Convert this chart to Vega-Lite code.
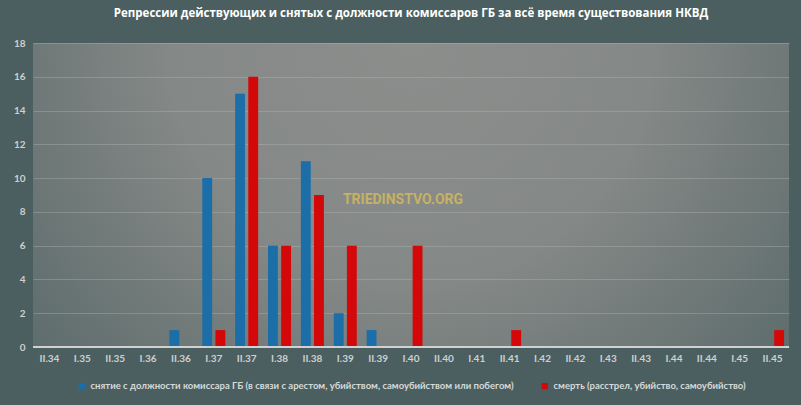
{
  "$schema": "https://vega.github.io/schema/vega-lite/v6.json",
  "autosize": {"type": "none"},
  "width": 756,
  "height": 304,
  "padding": {"left": 33, "top": 43, "right": 12, "bottom": 58},
  "background": "#4b5f60",
  "title": {
    "text": "Репрессии действующих и снятых с должности комиссаров ГБ за всё время существования НКВД",
    "font": "Open Sans",
    "fontSize": 11.5,
    "fontWeight": "bold",
    "color": "#ffffff",
    "anchor": "middle",
    "offset": 19
  },
  "config": {
    "view": {
      "stroke": null,
      "fill": {
        "gradient": "radial",
        "x1": 0.5, "y1": 0.3, "r1": 0,
        "x2": 0.5, "y2": 0.3, "r2": 0.8,
        "stops": [
          {"offset": 0, "color": "#8c8e8c"},
          {"offset": 0.4, "color": "#848886"},
          {"offset": 1, "color": "#4b5f60"}
        ]
      }
    },
    "axis": {
      "labelFont": "Lato",
      "labelFontWeight": "bold",
      "labelFontSize": 10,
      "labelColor": "#cdd1d0",
      "labelOverlap": false,
      "domain": false,
      "ticks": false,
      "title": null
    },
    "legend": {
      "labelFont": "Lato",
      "labelFontWeight": "bold",
      "labelFontSize": 9.5,
      "labelColor": "#d6dad9",
      "labelLimit": 600,
      "layout": {"bottom": {"anchor": "middle"}}
    }
  },
  "datasets": {
    "bars": [
      {"period": "II.36", "series": "снятие с должности комиссара ГБ (в связи с арестом, убийством, самоубийством или побегом)", "value": 1},
      {"period": "I.37", "series": "снятие с должности комиссара ГБ (в связи с арестом, убийством, самоубийством или побегом)", "value": 10},
      {"period": "I.37", "series": "смерть (расстрел, убийство, самоубийство)", "value": 1},
      {"period": "II.37", "series": "снятие с должности комиссара ГБ (в связи с арестом, убийством, самоубийством или побегом)", "value": 15},
      {"period": "II.37", "series": "смерть (расстрел, убийство, самоубийство)", "value": 16},
      {"period": "I.38", "series": "снятие с должности комиссара ГБ (в связи с арестом, убийством, самоубийством или побегом)", "value": 6},
      {"period": "I.38", "series": "смерть (расстрел, убийство, самоубийство)", "value": 6},
      {"period": "II.38", "series": "снятие с должности комиссара ГБ (в связи с арестом, убийством, самоубийством или побегом)", "value": 11},
      {"period": "II.38", "series": "смерть (расстрел, убийство, самоубийство)", "value": 9},
      {"period": "I.39", "series": "снятие с должности комиссара ГБ (в связи с арестом, убийством, самоубийством или побегом)", "value": 2},
      {"period": "I.39", "series": "смерть (расстрел, убийство, самоубийство)", "value": 6},
      {"period": "II.39", "series": "снятие с должности комиссара ГБ (в связи с арестом, убийством, самоубийством или побегом)", "value": 1},
      {"period": "I.40", "series": "смерть (расстрел, убийство, самоубийство)", "value": 6},
      {"period": "II.41", "series": "смерть (расстрел, убийство, самоубийство)", "value": 1},
      {"period": "II.45", "series": "смерть (расстрел, убийство, самоубийство)", "value": 1}
    ],
    "baseline": [{"value": 0}],
    "watermark": [{"period": "I.40", "value": 8.7, "text": "TRIEDINSTVO.ORG"}]
  },
  "encoding": {
    "x": {
      "field": "period",
      "type": "nominal",
      "scale": {
        "domain": ["II.34","I.35","II.35","I.36","II.36","I.37","II.37","I.38","II.38","I.39","II.39","I.40","II.40","I.41","II.41","I.42","II.42","I.43","II.43","I.44","II.44","I.45","II.45"],
        "paddingInner": 0.3,
        "paddingOuter": 0.15
      },
      "axis": {"labelAngle": 0, "labelPadding": 6, "grid": false}
    },
    "y": {
      "field": "value",
      "type": "quantitative",
      "scale": {"domain": [0, 18]},
      "axis": {"values": [0,2,4,6,8,10,12,14,16,18], "tickCount": 10, "labelPadding": 8, "grid": true, "gridColor": "#b8bcba", "gridOpacity": 0.35, "gridWidth": 1}
    }
  },
  "layer": [
    {
      "data": {"name": "bars"},
      "mark": {"type": "bar"},
      "encoding": {
        "xOffset": {
          "field": "series",
          "type": "nominal",
          "scale": {
            "domain": ["снятие с должности комиссара ГБ (в связи с арестом, убийством, самоубийством или побегом)", "смерть (расстрел, убийство, самоубийство)"],
            "paddingInner": 0.25
          }
        },
        "color": {
          "field": "series",
          "type": "nominal",
          "scale": {
            "domain": ["снятие с должности комиссара ГБ (в связи с арестом, убийством, самоубийством или побегом)", "смерть (расстрел, убийство, самоубийство)"],
            "range": ["#1b6ea8", "#d40808"]
          },
          "legend": {
            "orient": "bottom",
            "direction": "horizontal",
            "title": null,
            "symbolType": "square",
            "symbolSize": 40,
            "symbolStrokeWidth": 0,
            "columnPadding": 26,
            "offset": 18
          }
        }
      }
    },
    {
      "data": {"name": "baseline"},
      "mark": {"type": "rule", "color": "#cfd2d1", "strokeWidth": 2},
      "encoding": {"x": null}
    },
    {
      "data": {"name": "watermark"},
      "mark": {"type": "text", "font": "Roboto", "fontWeight": "bold", "fontSize": 14, "color": "#d2b95e", "opacity": 0.85, "dx": -8},
      "encoding": {"text": {"field": "text"}}
    }
  ]
}
